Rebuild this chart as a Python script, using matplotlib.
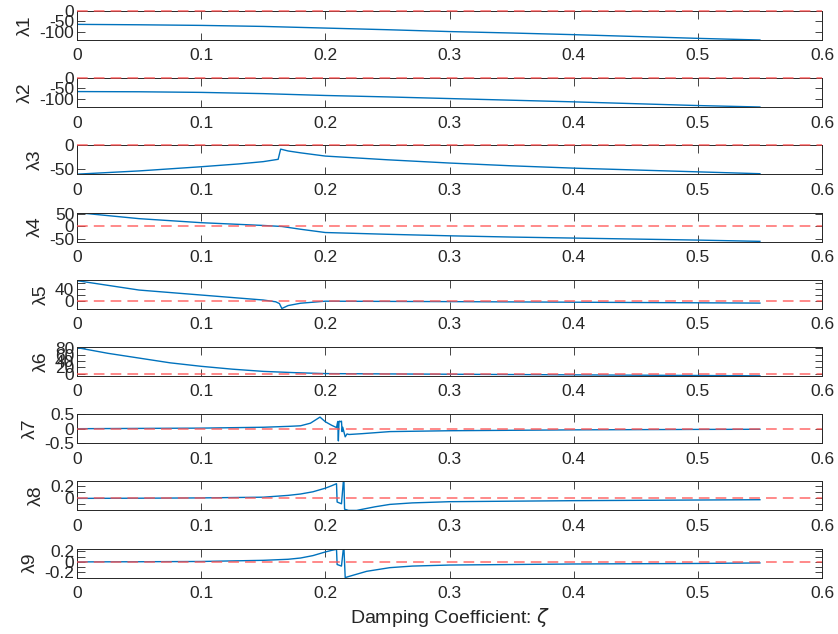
import numpy as np
import matplotlib
matplotlib.use('Agg')
import matplotlib.pyplot as plt

plt.rcParams['font.family'] = ['Liberation Sans', 'DejaVu Sans']
plt.rcParams['mathtext.fontset'] = 'dejavusans'

# eigenvalue traces (zeta, value)
z1 = [0, 0.05, 0.1, 0.15, 0.2, 0.25, 0.3, 0.35, 0.4, 0.45, 0.5, 0.55]
l1 = [-65, -67, -70, -75, -83, -91, -100, -107, -115, -124, -133, -141]

z2 = [0, 0.05, 0.1, 0.15, 0.2, 0.25, 0.3, 0.35, 0.4, 0.45, 0.5, 0.55]
l2 = [-65, -66, -69, -75, -84, -91, -99, -107, -115, -124, -133, -140]

z3 = [0, 0.05, 0.1, 0.13, 0.15, 0.162, 0.164, 0.17, 0.18, 0.2, 0.25, 0.3,
      0.35, 0.4, 0.45, 0.5, 0.55]
l3 = [-62, -55, -46, -40, -35, -30, -8, -12, -16, -23, -31, -38,
      -44, -49, -53, -57, -61]

z4 = [0, 0.05, 0.1, 0.15, 0.165, 0.18, 0.2, 0.25, 0.3, 0.35, 0.4, 0.45, 0.5, 0.55]
l4 = [55, 31, 15, 4, 0, -11, -24, -31, -37, -42, -46, -50, -54, -59]

z5 = [0, 0.05, 0.1, 0.15, 0.16, 0.163, 0.165, 0.17, 0.18, 0.2, 0.3, 0.4, 0.5, 0.55]
l5 = [68, 36, 19, 2, -4, -10, -27, -17, -9, -2, -3.5, -5.5, -7.5, -8.5]

z6 = [0, 0.025, 0.05, 0.075, 0.1, 0.125, 0.15, 0.175, 0.2, 0.3, 0.4, 0.5, 0.55]
l6 = [82, 64, 49, 34, 23, 14, 7, 3, 0, -2, -4, -6, -7]

z7 = [0, 0.1, 0.15, 0.17, 0.18, 0.188, 0.1957, 0.2, 0.205, 0.209, 0.210,
      0.2105, 0.211, 0.2115, 0.212, 0.213, 0.2135, 0.214, 0.216, 0.2175,
      0.219, 0.23, 0.252, 0.3, 0.4, 0.5, 0.55]
l7 = [0, 0.02, 0.05, 0.08, 0.10, 0.19, 0.40, 0.24, 0.12, 0.04, 0.25,
      -0.42, 0.25, 0.26, 0.24, 0.26, -0.1, 0.05, -0.28, -0.18,
      -0.2, -0.17, -0.10, -0.07, -0.04, -0.025, -0.02]

z8 = [0, 0.05, 0.1, 0.15, 0.17, 0.18, 0.19, 0.2, 0.205, 0.209, 0.2095,
      0.213, 0.2145, 0.215, 0.2155, 0.2187, 0.2252, 0.24, 0.252, 0.27,
      0.3, 0.4, 0.5, 0.55]
l8 = [0, 0.003, 0.008, 0.02, 0.05, 0.073, 0.11, 0.17, 0.21, 0.245, -0.06,
      -0.09, 0.28, 0.28, -0.18, -0.2, -0.2, -0.14, -0.1, -0.075,
      -0.055, -0.038, -0.027, -0.022]

z9 = [0, 0.05, 0.1, 0.15, 0.17, 0.18, 0.19, 0.2, 0.205, 0.209, 0.2095,
      0.213, 0.2145, 0.215, 0.216, 0.2187, 0.2333, 0.252, 0.27, 0.3,
      0.4, 0.5, 0.55]
l9 = [0, 0.003, 0.008, 0.03, 0.05, 0.074, 0.12, 0.19, 0.22, 0.24, -0.05,
      -0.08, 0.25, 0.25, -0.3, -0.28, -0.18, -0.11, -0.08, -0.06,
      -0.04, -0.03, -0.02]

traces = [(z1, l1), (z2, l2), (z3, l3), (z4, l4), (z5, l5),
          (z6, l6), (z7, l7), (z8, l8), (z9, l9)]

# axis ranges / ticks, as in the figure
ylims = [(-141, 0), (-141, 0), (-62.5, 0), (-60, 55), (-28, 71),
         (-7.6, 84), (-0.5, 0.5), (-0.2, 0.283), (-0.3, 0.254)]
yticks = [[-100, -50, 0], [-100, -50, 0], [-50, 0], [-50, 0, 50],
          [0, 20, 40, 60], [0, 20, 40, 60, 80], [-0.5, 0, 0.5],
          [-0.1, 0, 0.1, 0.2], [-0.2, -0.1, 0, 0.1, 0.2]]
ytlabels = [['-100', '-50', '0'], ['-100', '-50', '0'], ['-50', '0'],
            ['-50', '0', '50'], ['0', '', '40', ''],
            ['0', '20', '40', '60', '80'], ['-0.5', '0', '0.5'],
            ['', '0', '', '0.2'], ['-0.2', '', '0', '', '0.2']]
xticks = [0, 0.1, 0.2, 0.3, 0.4, 0.5, 0.6]
xtlabels = ['0', '0.1', '0.2', '0.3', '0.4', '0.5', '0.6']

W, H = 838, 634
fig = plt.figure(figsize=(W / 100, H / 100), dpi=100)

dark = '#262626'
for k, (z, lam) in enumerate(traces):
    top = 11 + k * 67.2
    ax = fig.add_axes([77 / W, 1 - (top + 29) / H, 745 / W, 29 / H])
    ax.plot([0, 0.6], [0, 0], color='#ff5050', lw=1.1, ls=(0, (7, 4)),
            alpha=0.85, zorder=3, clip_on=False)
    ax.plot(z, lam, color='#0072bd', lw=1.0, zorder=2)
    ax.set_xlim(0, 0.6)
    ax.set_ylim(*ylims[k])
    ax.set_xticks(xticks)
    ax.set_xticklabels(xtlabels)
    ax.set_yticks(yticks[k])
    ax.set_yticklabels(ytlabels[k])
    ax.tick_params(direction='in', length=5.4, width=0.6, top=True,
                   right=True, labelsize=12.5, colors=dark)
    ax.tick_params(axis='x', pad=6)
    ax.tick_params(axis='y', pad=2)
    for s in ax.spines.values():
        s.set_color(dark)
        s.set_linewidth(0.7)
    ax.set_ylabel('λ%d' % (k + 1), fontsize=14, color=dark, labelpad=4)
    if k == 8:
        ax.set_xlabel(r'Damping Coefficient: $\zeta$', fontsize=14,
                      color=dark, labelpad=4)

fig.savefig('out.png', dpi=100)
